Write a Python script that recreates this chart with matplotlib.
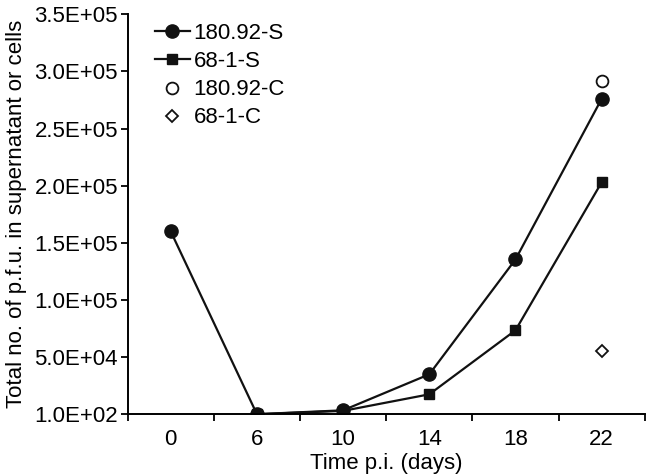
import numpy as np
import matplotlib.pyplot as plt

plt.rcParams['font.family'] = ['Liberation Sans', 'DejaVu Sans']

days = ['0', '6', '10', '14', '18', '22']
s180 = [160000, 100, 3500, 35000, 135500, 276000]
s681 = [np.nan, 100, 3000, 17500, 73500, 203000]
c180 = [np.nan, np.nan, np.nan, np.nan, np.nan, 292000]
c681 = [np.nan, np.nan, np.nan, np.nan, np.nan, 55000]
yticks = [100, 50000, 100000, 150000, 200000, 250000, 300000, 350000]
ylabels = ['1.0E+02', '5.0E+04', '1.0E+05', '1.5E+05', '2.0E+05',
           '2.5E+05', '3.0E+05', '3.5E+05']

fs = 16

fig = plt.figure(figsize=(6.48, 4.75), dpi=100)
ax = fig.add_axes([0.197, 0.128, 0.798, 0.842])

x = np.arange(len(days))
ax.plot(x, s180, color='#111111', lw=1.6, marker='o', ms=9.5, label='180.92-S')
ax.plot(x, s681, color='#111111', lw=1.6, marker='s', ms=7, label='68-1-S')
ax.plot(x, c180, ls='none', marker='o', ms=8.5, mfc='white', mec='#111111',
        mew=1.3, label='180.92-C')
ax.plot(x, c681, ls='none', marker='D', ms=6.5, mfc='white', mec='#111111',
        mew=1.3, label='68-1-C')

ax.set_xlim(-0.5, 5.5)
ax.set_ylim(100, 350000)
ax.set_yticks(yticks)
ax.set_yticklabels(ylabels)
ax.set_xticks(x)
ax.set_xticklabels(days)
ax.set_xticks(np.arange(-0.5, 6, 1), minor=True)
ax.tick_params(axis='x', which='major', length=0, pad=11)
ax.tick_params(axis='x', which='minor', length=5, direction='out', width=1.3)
ax.tick_params(axis='y', length=5, direction='out', width=1.3, pad=2)
ax.tick_params(labelsize=fs)
for side in ['top', 'right']:
    ax.spines[side].set_visible(False)
for side in ['left', 'bottom']:
    ax.spines[side].set_linewidth(1.4)

ax.set_xlabel('Time p.i. (days)', fontsize=fs, labelpad=2)
ax.set_ylabel('Total no. of p.f.u. in supernatant or cells', fontsize=fs,
              labelpad=5)

ax.legend(loc='upper left', bbox_to_anchor=(0.035, 1.0), frameon=False,
          fontsize=fs, handlelength=1.6, handletextpad=0.15,
          labelspacing=0.32, borderaxespad=0)

fig.savefig('out.png', dpi=100)
